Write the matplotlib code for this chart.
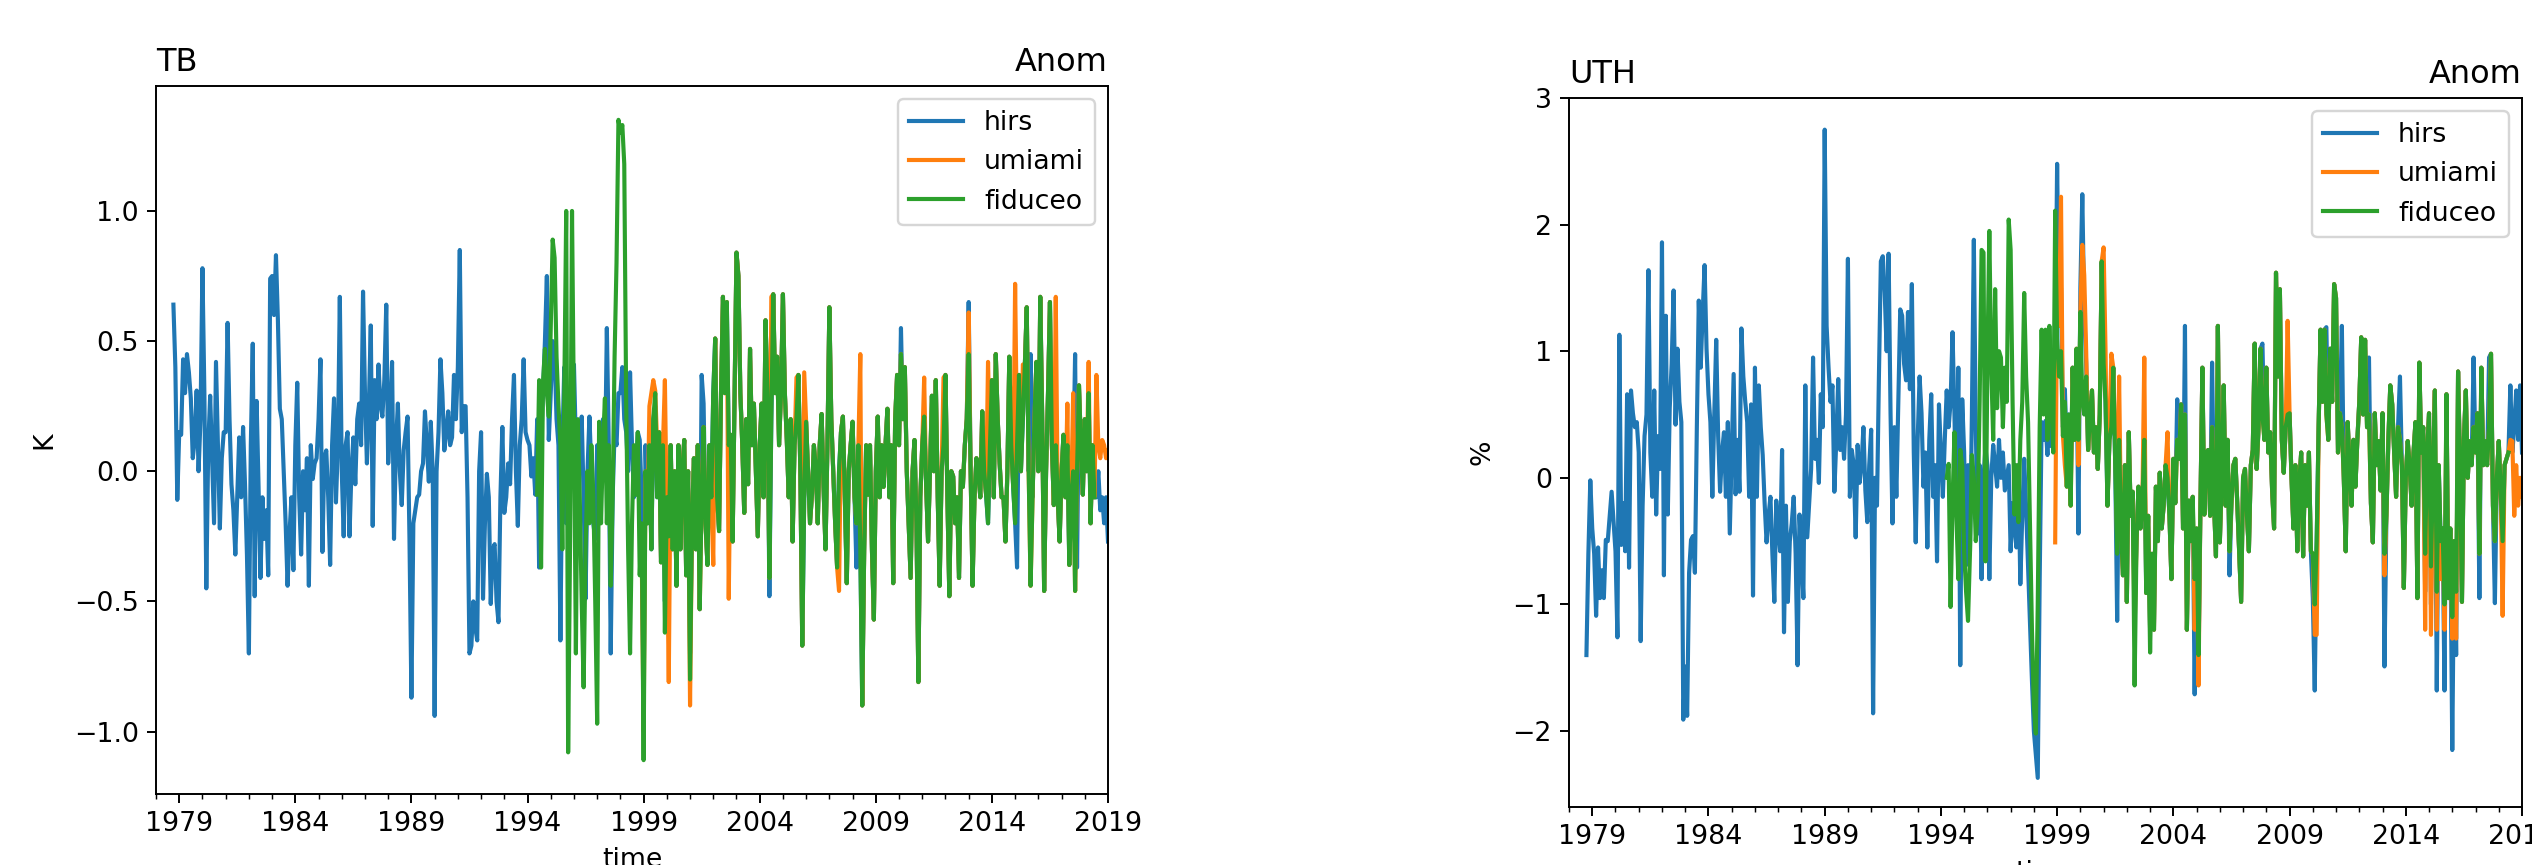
import numpy as np
import matplotlib
matplotlib.use("Agg")
import matplotlib.pyplot as plt
from matplotlib.ticker import FixedLocator, FixedFormatter

# ---------------- DATA (monthly anomalies) ----------------
# start months (decimal year of first value)
tb_hirs_start = 1978 + 9 / 12      # Oct 1978
tb_umiami_start = 1998 + 11 / 12   # Dec 1998
tb_fiduceo_start = 1994 + 5 / 12   # Jun 1994
uth_hirs_start = 1978 + 9 / 12     # Oct 1978
uth_umiami_start = 1998 + 11 / 12  # Dec 1998
uth_fiduceo_start = 1994 + 3 / 12  # Apr 1994

tb_hirs = [
    0.64, 0.40, -0.11,
    0.15, 0.14, 0.43, 0.30, 0.45, 0.38, 0.28, 0.05, 0.12, 0.31, 0.00, 0.20,
    0.78, 0.30, -0.45, 0.10, 0.29, 0.05, -0.20, 0.42, 0.10, -0.22, 0.05, 0.15,
    0.15, 0.57, 0.20, -0.05, -0.15, -0.32, -0.10, 0.13, -0.10, 0.17, -0.05, -0.32,
    -0.70, 0.10, 0.49, -0.48, 0.27, -0.06, -0.41, -0.10, -0.26, -0.15, -0.40, 0.74,
    0.75, 0.60, 0.83, 0.58, 0.24, 0.20, 0.00, -0.20, -0.44, -0.24, -0.10, -0.38,
    0.10, 0.34, -0.10, -0.32, 0.00, -0.15, 0.05, -0.44, 0.10, -0.03, 0.03, 0.05,
    0.20, 0.43, -0.31, 0.05, 0.08, -0.10, -0.36, 0.10, 0.28, -0.12, 0.10, 0.67,
    0.00, -0.25, 0.10, 0.15, -0.25, 0.00, 0.13, -0.05, 0.20, 0.26, 0.10, 0.69,
    0.30, 0.03, 0.25, 0.56, -0.21, 0.35, 0.20, 0.41, 0.25, 0.21, 0.35, 0.64,
    0.03, 0.20, 0.42, -0.26, 0.10, 0.26, 0.00, -0.13, 0.08, 0.15, 0.21, -0.26,
    -0.87, -0.20, -0.15, -0.10, -0.09, 0.00, 0.03, 0.23, 0.10, -0.04, 0.19, 0.00,
    -0.94, 0.00, 0.15, 0.43, 0.30, 0.08, 0.15, 0.23, 0.10, 0.13, 0.37, 0.20,
    0.40, 0.85, 0.15, 0.25, 0.25, -0.10, -0.70, -0.67, -0.50, -0.60, -0.65, 0.00,
    0.15, -0.49, -0.20, -0.01, -0.10, -0.51, -0.30, -0.28, -0.50, -0.58, -0.10, 0.17,
    -0.16, -0.10, 0.03, -0.05, 0.20, 0.37, 0.00, -0.21, 0.10, 0.20, 0.43, 0.15,
    0.12, 0.10, -0.02, 0.05, -0.09, 0.20, -0.37, 0.10, 0.30, 0.50, 0.75, 0.12,
    0.30, 0.50, 0.45, 0.20, 0.10, -0.65, 0.10, 0.40, -0.20, 0.05, 0.10, 0.35,
    0.41, 0.10, -0.10, 0.10, 0.21, -0.10, -0.49, 0.00, 0.21, 0.00, -0.20, -0.26,
    0.10, -0.20, 0.05, 0.20, 0.00, 0.55, 0.10, -0.70, -0.10, 0.15, 0.10, 0.30,
    0.30, 0.40, 0.20, 0.15, 0.00, 0.38, 0.10, -0.10, 0.00, 0.15, 0.12, -0.10,
    -0.90, 0.10, -0.20, 0.10, -0.30, 0.20, 0.25, -0.10, 0.15, -0.35, 0.10, -0.50,
    -0.10, -0.25, 0.10, -0.30, 0.00, -0.44, 0.10, -0.30, 0.00, 0.12, -0.40, 0.00,
    -0.70, -0.20, 0.05, -0.30, 0.10, -0.53, 0.37, 0.26, -0.20, -0.36, 0.10, -0.10,
    0.30, 0.51, -0.10, -0.23, 0.30, 0.67, 0.30, 0.65, 0.10, 0.14, -0.27, 0.30,
    0.84, 0.75, 0.30, 0.10, -0.16, 0.20, -0.05, 0.47, 0.10, 0.26, 0.00, -0.25,
    0.10, 0.26, -0.10, 0.58, 0.30, -0.48, 0.20, 0.68, 0.30, 0.44, 0.10, 0.30,
    0.68, 0.30, 0.12, -0.10, 0.20, -0.27, 0.10, 0.20, 0.37, 0.00, -0.67, -0.10,
    0.19, 0.00, -0.20, -0.09, 0.10, 0.01, -0.20, 0.10, 0.22, -0.06, -0.30, 0.10,
    0.63, 0.20, 0.00, -0.20, -0.37, 0.00, 0.15, 0.21, -0.10, -0.43, 0.00, 0.10,
    0.19, -0.10, -0.37, 0.10, -0.30, -0.90, -0.30, 0.10, -0.09, 0.10, -0.30, -0.57,
    0.00, 0.21, -0.10, 0.10, -0.06, 0.10, 0.24, -0.10, 0.10, -0.43, 0.20, 0.37,
    0.10, 0.55, 0.20, 0.40, 0.00, -0.20, -0.41, 0.00, 0.12, -0.20, -0.81, -0.10,
    0.10, 0.21, -0.05, -0.27, 0.00, 0.29, 0.00, 0.35, -0.10, -0.44, 0.00, 0.10,
    0.37, -0.10, -0.48, 0.00, -0.02, -0.20, -0.10, -0.41, 0.00, -0.06, 0.10, 0.20,
    0.65, 0.00, -0.44, -0.10, 0.05, 0.00, -0.10, 0.23, 0.00, -0.09, -0.20, 0.10,
    0.35, -0.10, 0.45, 0.20, 0.03, -0.10, -0.10, -0.27, 0.00, 0.44, 0.10, -0.06,
    -0.20, -0.37, 0.37, 0.00, 0.20, 0.40, 0.63, 0.00, 0.45, -0.10, 0.20, 0.42,
    0.00, 0.67, 0.20, -0.46, 0.00, 0.30, 0.65, 0.10, -0.13, 0.10, -0.10, -0.27,
    0.00, 0.14, -0.10, 0.10, -0.36, -0.10, 0.00, 0.45, -0.37, 0.33, 0.10, -0.09,
    0.20, 0.00, 0.30, -0.20, 0.10, -0.10, -0.10, 0.00, -0.15, -0.10, -0.20, -0.10,
    -0.27,
]

tb_umiami = [
    -0.30,
    -1.00, 0.00, -0.20, 0.25, 0.30, 0.35, 0.31, 0.10, 0.15, -0.35, 0.10, 0.35,
    -0.20, -0.81, 0.10, -0.30, 0.00, -0.44, 0.10, -0.30, 0.00, 0.12, -0.40, 0.00,
    -0.90, -0.20, 0.05, -0.30, 0.10, -0.53, -0.10, 0.17, -0.20, -0.36, 0.10, -0.10,
    -0.36, 0.51, -0.10, -0.23, 0.30, 0.67, 0.30, 0.65, -0.49, 0.14, -0.27, 0.30,
    0.84, 0.75, 0.30, 0.10, -0.16, 0.20, -0.05, 0.47, 0.10, 0.26, 0.00, -0.25,
    0.10, 0.26, -0.10, 0.58, 0.30, -0.41, 0.67, 0.68, 0.30, 0.44, 0.10, 0.30,
    0.68, 0.30, 0.12, -0.10, 0.20, -0.27, 0.10, 0.36, 0.37, 0.00, -0.67, 0.38,
    0.19, 0.00, -0.20, -0.09, 0.10, 0.01, -0.20, 0.10, 0.22, -0.06, -0.30, 0.10,
    0.63, 0.20, 0.00, -0.20, -0.37, -0.46, 0.15, 0.21, -0.10, -0.43, 0.00, 0.10,
    0.19, -0.10, -0.20, 0.10, 0.45, -0.90, -0.30, 0.10, -0.09, 0.10, -0.30, -0.57,
    0.00, 0.21, -0.10, 0.10, -0.06, 0.10, 0.24, -0.10, 0.10, -0.43, 0.20, 0.37,
    0.10, 0.45, 0.20, 0.40, 0.00, -0.20, -0.41, 0.00, 0.12, -0.20, -0.81, -0.10,
    0.10, 0.36, -0.05, -0.27, 0.00, 0.29, 0.00, 0.35, -0.10, -0.44, 0.00, 0.36,
    0.37, -0.10, -0.48, 0.00, -0.02, -0.20, -0.10, -0.41, 0.00, -0.06, 0.10, 0.20,
    0.61, 0.00, -0.44, -0.10, 0.05, 0.00, -0.10, 0.23, 0.00, -0.09, 0.42, 0.10,
    0.35, -0.10, 0.45, 0.20, 0.03, -0.10, -0.10, -0.27, 0.00, 0.44, 0.10, -0.06,
    0.72, 0.10, 0.37, 0.00, 0.41, 0.40, 0.63, 0.00, -0.44, -0.10, 0.20, 0.42,
    0.00, 0.67, 0.20, -0.46, 0.00, 0.30, 0.65, 0.10, -0.13, 0.67, -0.10, -0.27,
    0.00, 0.14, -0.10, 0.26, -0.36, -0.10, 0.30, -0.46, 0.00, 0.33, 0.10, -0.09,
    0.20, 0.00, 0.42, -0.20, 0.10, -0.10, 0.37, 0.10, 0.05, 0.12, 0.10, 0.05,
    0.08,
]

tb_fiduceo = [
    -0.09, 0.35, -0.37, 0.34, 0.47, 0.30, 0.21,
    0.55, 0.89, 0.82, 0.44, 0.25, 0.10, -0.30, 0.30, 1.00, -1.08, -0.27, 1.00,
    0.20, -0.70, 0.20, -0.10, -0.50, -0.83, -0.30, 0.00, -0.20, 0.10, -0.09, -0.50,
    -0.97, 0.19, -0.20, 0.10, 0.28, -0.20, 0.10, -0.44, -0.10, 0.44, 0.80, 1.35,
    1.30, 1.33, 1.18, 0.26, -0.30, -0.70, -0.20, 0.10, -0.09, 0.15, -0.40, -0.20,
    -1.11, 0.00, -0.20, 0.10, -0.30, 0.20, 0.30, -0.10, 0.15, -0.35, 0.10, -0.62,
    -0.10, -0.25, 0.10, -0.30, 0.00, -0.44, 0.10, -0.30, 0.00, 0.12, -0.40, 0.00,
    -0.80, -0.20, 0.05, -0.30, 0.10, -0.53, -0.10, 0.17, -0.20, -0.36, 0.10, -0.10,
    0.30, 0.51, -0.10, -0.23, 0.30, 0.67, 0.30, 0.65, 0.10, 0.14, -0.27, 0.30,
    0.84, 0.75, 0.30, 0.10, -0.16, 0.20, -0.05, 0.47, 0.10, 0.26, 0.00, -0.25,
    0.10, 0.26, -0.10, 0.58, 0.30, -0.41, 0.20, 0.68, 0.30, 0.44, 0.10, 0.30,
    0.68, 0.30, 0.12, -0.10, 0.20, -0.27, 0.10, 0.20, 0.37, 0.00, -0.67, -0.10,
    0.19, 0.00, -0.20, -0.09, 0.10, 0.01, -0.20, 0.10, 0.22, -0.06, -0.30, 0.10,
    0.63, 0.20, 0.00, -0.20, -0.37, 0.00, 0.15, 0.21, -0.10, -0.43, 0.00, 0.10,
    0.19, -0.10, -0.20, 0.10, -0.30, -0.90, -0.30, 0.10, -0.09, 0.10, -0.30, -0.57,
    0.00, 0.21, -0.10, 0.10, -0.06, 0.10, 0.24, -0.10, 0.10, -0.43, 0.20, 0.37,
    0.10, 0.45, 0.20, 0.40, 0.00, -0.20, -0.41, 0.00, 0.12, -0.20, -0.81, -0.10,
    0.10, 0.21, -0.05, -0.27, 0.00, 0.29, 0.00, 0.35, -0.10, -0.44, 0.00, 0.10,
    0.37, -0.10, -0.48, 0.00, -0.02, -0.20, -0.10, -0.41, 0.00, -0.06, 0.10, 0.20,
    0.45, 0.00, -0.44, -0.10, 0.05, 0.00, -0.10, 0.23, 0.00, -0.09, -0.20, 0.10,
    0.35, -0.10, 0.45, 0.20, 0.03, -0.10, -0.10, -0.27, 0.00, 0.44, 0.10, -0.06,
    -0.20, 0.10, 0.37, 0.00, 0.20, 0.40, 0.63, 0.00, -0.44, -0.10, 0.20, 0.42,
    0.00, 0.67, 0.20, -0.46, 0.00, 0.30, 0.65, 0.10, -0.13, 0.10, -0.10, -0.27,
    0.00, 0.14, -0.10, 0.10, -0.36, -0.10, 0.00, -0.46, 0.00, 0.33, 0.10, -0.09,
    0.20, 0.00, 0.30, -0.20, 0.10, -0.10,
]

uth_hirs = [
    -1.40, -0.60, -0.02,
    -0.40, -0.60, -1.09, -0.55, -0.95, -0.73, -0.95, -0.49, -0.50, -0.30, -0.11, -0.35,
    -0.58, -1.26, 1.13, -0.53, -0.20, -0.58, 0.66, -0.71, 0.69, 0.51, 0.40, 0.44,
    0.20, -1.29, -0.22, 0.33, 0.50, 1.64, 0.20, -0.15, 0.69, -0.29, 0.33, 0.07,
    1.86, -0.77, 1.28, -0.29, 0.55, 0.90, 1.48, 0.42, 1.02, 0.60, 0.44, -1.91,
    -1.49, -1.88, -0.75, -0.49, -0.46, -0.75, 0.40, 1.40, 0.87, 1.30, 1.68, 1.02,
    0.66, 0.44, -0.15, 0.50, 1.09, 0.33, -0.11, 0.20, 0.36, -0.15, 0.44, -0.44,
    0.20, 0.82, -0.13, 0.30, -0.11, 1.18, 0.80, 0.60, 0.44, -0.15, 0.58, -0.93,
    0.87, -0.15, 0.73, 0.40, 0.18, -0.20, -0.51, -0.30, -0.15, -0.60, -0.98, -0.18,
    -0.40, -0.58, 0.22, -1.22, -0.22, -0.98, -0.50, -0.36, -0.15, -0.60, -1.48, -0.29,
    -0.60, -0.95, 0.73, -0.47, -0.20, 0.07, 0.95, 0.15, 0.30, -0.04, 0.66, 0.40,
    2.75, 1.20, 0.87, 0.60, 0.73, -0.11, 0.30, 0.78, 0.22, 0.40, 0.15, 0.50,
    1.73, -0.15, 0.22, 0.10, -0.47, 0.26, -0.04, 0.10, 0.40, -0.10, -0.35, 0.10,
    0.38, -1.86, 0.00, -0.22, 0.80, 1.71, 1.75, 1.46, 1.00, 1.77, 0.51, -0.36,
    0.40, -0.15, 0.60, 1.33, 1.28, 0.90, 0.77, 1.31, 0.70, 1.53, 0.20, -0.51,
    0.30, 0.80, 0.51, -0.07, 0.20, -0.55, 0.30, 0.66, -0.15, 0.10, -0.66, 0.58,
    0.20, -0.15, 0.30, 0.69, 0.40, 0.60, 1.15, 0.50, -0.29, 0.87, -1.48, 0.62,
    0.20, -0.69, 0.10, -0.58, 0.50, 1.88, 0.40, -0.44, 0.10, -0.80, 0.00, 0.24,
    0.10, -0.80, 0.00, 0.26, 0.10, -0.07, 0.30, 0.00, 0.20, -0.10, 0.00, 0.10,
    -0.58, -0.20, -0.40, -0.55, 0.10, -0.84, -0.30, 0.15, -0.25, -0.70, -1.15, -1.60,
    -2.00, -2.19, -2.37, -0.80, 0.44, 0.30, 0.45, 0.18, 0.60, 0.25, 0.50, 0.90,
    2.48, 1.20, 1.50, 0.40, 0.70, 0.20, 0.50, -0.10, 0.87, 0.30, 1.00, -0.44,
    1.50, 2.24, 1.30, 0.90, 0.22, 0.50, 0.69, 0.20, 0.40, 0.07, 0.50, 1.70,
    1.20, 0.60, -0.22, 0.30, 0.40, 0.87, 0.10, -1.13, 0.30, -0.40, -0.77, 0.10,
    -0.98, 0.36, -0.30, -0.11, -1.00, -0.50, -0.07, -0.40, -0.22, 0.30, -0.91, -0.30,
    -1.20, -0.60, -1.20, -0.07, -0.50, 0.04, -0.40, -0.22, 0.10, 0.00, -0.30, -0.80,
    0.15, -0.20, 0.62, 0.15, 0.58, -0.40, 1.20, -1.20, -0.18, -0.50, -0.15, -1.71,
    -0.40, -1.50, -0.20, 0.87, -0.29, 0.20, 0.22, -0.30, 0.91, -0.20, -0.62, 1.20,
    -0.51, 0.00, 0.73, -0.22, 0.30, -0.77, -0.20, 0.10, 0.15, -0.20, -0.58, -0.98,
    0.00, 0.07, -0.30, -0.58, 0.10, 0.22, 1.06, 0.07, 0.40, 1.02, 1.06, 0.30,
    0.87, 0.20, 0.36, -0.10, -0.40, 1.62, 0.80, 1.49, 0.30, 0.04, 0.40, 0.50,
    0.51, 0.00, -0.40, 0.10, -0.58, -0.04, 0.20, -0.62, 0.10, -0.22, 0.20, -0.58,
    -0.95, -1.68, -0.50, 0.40, 1.17, 0.60, 1.17, 1.19, 0.30, 1.02, 0.60, 1.53,
    1.42, 0.20, 0.51, 1.20, 0.00, -0.58, 0.44, 0.10, -0.22, 0.30, -0.07, 0.30,
    0.60, 1.11, 0.50, 1.09, 0.40, 0.95, -0.20, -0.51, 0.51, 0.10, 0.29, -0.10,
    0.51, -1.49, -0.30, 0.30, 0.73, 0.58, 0.20, -0.15, 0.40, 0.80, 0.10, -0.87,
    0.00, 0.29, 0.10, -0.22, 0.20, 0.44, -0.95, 0.91, 0.20, 0.40, -0.90, 0.20,
    0.51, -1.00, 0.00, 0.69, -1.68, 0.10, -0.50, -0.40, -1.68, 0.66, -0.95, -0.40,
    -2.15, -0.50, -1.40, 0.84, 0.10, -0.98, 0.30, 0.69, 0.00, 0.29, 0.10, 0.95,
    0.20, 0.51, -0.95, 0.87, 0.10, 0.29, 0.10, 0.95, 0.98, -0.22, -0.99, 0.00,
    0.29, -0.10, -0.50, 0.10, 0.15, 0.20, 0.73, 0.20, 0.40, 0.69, 0.30, 0.73,
    0.20,
]

uth_umiami = [
    -0.51,
    1.50, 1.20, 2.22, 0.33, 0.10, -0.07, 0.30, -0.22, 0.87, 0.30, 1.02, 0.10,
    1.30, 1.84, 1.60, 1.00, 0.22, 0.50, 0.69, 0.20, 0.40, 0.07, 0.50, 1.71,
    1.82, 1.00, -0.22, 0.30, 0.98, 0.87, 0.30, -0.50, 0.80, -0.40, -0.77, 0.10,
    -0.98, 0.36, -0.30, -0.11, -1.20, -0.50, -0.07, -0.40, -0.22, 0.95, -0.91, -0.30,
    -1.20, -0.60, -1.20, -0.07, -0.50, 0.04, -0.40, -0.22, 0.10, 0.36, -0.30, -0.80,
    0.15, -0.20, 0.30, 0.15, 0.58, -0.40, 0.50, -1.20, -0.18, -0.50, -0.15, -1.20,
    -0.40, -1.64, -0.20, 0.87, -0.29, 0.20, 0.22, -0.30, 0.40, -0.20, -0.62, 1.20,
    -0.51, 0.00, 0.73, -0.22, 0.30, -0.58, -0.20, 0.10, 0.15, -0.20, -0.58, -0.98,
    0.00, 0.07, -0.30, -0.58, 0.10, 0.22, 1.06, 0.07, 0.40, 1.02, 0.50, 0.30,
    0.87, 0.20, 0.36, -0.10, -0.40, 1.62, 0.80, 1.49, 0.30, 0.04, 0.40, 1.24,
    0.51, 0.00, -0.40, 0.10, -0.58, -0.04, 0.20, -0.62, 0.10, -0.22, 0.20, -0.58,
    -0.60, -1.24, -1.24, 0.40, 1.17, 0.60, 1.17, 0.50, 0.30, 1.02, 0.60, 1.53,
    1.42, 0.20, 0.51, 0.40, 0.00, -0.58, 0.44, 0.10, -0.22, 0.30, -0.07, 0.30,
    0.60, 1.11, 0.50, 1.09, 0.40, 0.50, -0.20, -0.51, 0.51, 0.10, 0.29, -0.10,
    0.51, -0.77, -0.30, 0.30, 0.73, 0.58, 0.20, -0.15, 0.40, 0.30, 0.10, -0.87,
    0.00, 0.29, 0.10, -0.22, 0.20, 0.44, -0.95, 0.91, 0.20, 0.40, -1.20, 0.20,
    0.51, -1.24, 0.00, 0.69, -1.20, 0.10, -0.80, -0.40, -1.20, 0.66, -0.95, -0.40,
    -1.27, -0.50, -1.27, 0.84, 0.10, -0.98, 0.30, 0.69, 0.00, 0.29, 0.10, 0.40,
    0.20, 0.51, -0.60, 0.87, 0.10, 0.29, 0.10, 0.40, 0.98, -0.22, -0.50, 0.00,
    0.29, -0.10, -1.09, 0.10, 0.15, 0.20, 0.30, 0.29, -0.30, 0.10, -0.22, 0.00,
    -0.15,
]

uth_fiduceo = [
    0.00, 0.11, -1.02, -0.20, 0.36, -0.30, -0.80, 0.22, 0.10,
    -0.58, -0.90, -1.13, -0.60, 0.18, 0.00, -0.50, -0.26, 0.60, 1.80, 1.78, -0.66,
    0.90, 1.95, 0.87, 0.30, 1.49, 0.55, 1.00, 0.95, 0.40, 0.87, 0.60, 2.04,
    1.80, 0.60, -0.29, 0.10, -0.35, 0.30, 0.60, 1.46, 0.80, 0.44, -0.40, -1.20,
    -1.80, -2.02, -1.00, 0.40, 1.17, 0.50, 1.17, 0.30, 1.20, 0.60, 0.20, 2.11,
    1.10, 0.80, 1.00, 0.33, 0.60, -0.07, 0.50, -0.22, 0.87, 0.30, 1.02, 0.30,
    1.31, 0.60, 0.50, 0.80, 0.22, 0.50, 0.69, 0.20, 0.40, 0.07, 0.50, 1.71,
    0.90, 0.60, -0.22, 0.30, 0.40, 0.87, 0.10, -0.60, 0.30, -0.40, -0.77, 0.10,
    -0.98, 0.36, -0.30, -0.11, -1.64, -0.50, -0.07, -0.40, -0.22, 0.30, -0.91, -0.30,
    -1.38, -0.60, -1.20, -0.07, -0.50, 0.04, -0.40, -0.22, 0.10, 0.00, -0.30, -0.80,
    0.15, -0.20, 0.30, 0.15, 0.58, -0.40, 0.50, -1.20, -0.18, -0.50, -0.15, -0.80,
    -0.40, -1.40, -0.20, 0.87, -0.29, 0.20, 0.22, -0.30, 0.40, -0.20, -0.62, 1.20,
    -0.51, 0.00, 0.73, -0.22, 0.30, -0.58, -0.20, 0.10, 0.15, -0.20, -0.58, -0.98,
    0.00, 0.07, -0.30, -0.58, 0.10, 0.22, 1.06, 0.07, 0.40, 1.02, 0.50, 0.30,
    0.87, 0.20, 0.36, -0.10, -0.40, 1.62, 0.80, 1.49, 0.30, 0.04, 0.40, 0.50,
    0.51, 0.00, -0.40, 0.10, -0.58, -0.04, 0.20, -0.62, 0.10, -0.22, 0.20, -0.58,
    -0.60, -1.00, -0.50, 0.40, 1.17, 0.60, 1.17, 0.50, 0.30, 1.02, 0.60, 1.53,
    1.42, 0.20, 0.51, 0.40, 0.00, -0.58, 0.44, 0.10, -0.22, 0.30, -0.07, 0.30,
    0.60, 1.11, 0.50, 1.09, 0.40, 0.50, -0.20, -0.51, 0.51, 0.10, 0.29, -0.10,
    0.51, -0.60, -0.30, 0.30, 0.73, 0.58, 0.20, -0.15, 0.40, 0.30, 0.10, -0.87,
    0.00, 0.29, 0.10, -0.22, 0.20, 0.44, -0.95, 0.91, 0.20, 0.40, -0.60, 0.20,
    0.51, -0.70, 0.00, 0.69, -0.90, 0.10, -0.50, -0.40, -1.00, 0.66, -0.95, -0.40,
    -1.10, -0.50, -0.90, 0.84, 0.10, -0.98, 0.30, 0.69, 0.00, 0.29, 0.10, 0.40,
    0.20, 0.51, -0.60, 0.87, 0.10, 0.29, 0.10, 0.40, 0.98, -0.22, -0.50, 0.00,
    0.29, -0.10, -0.50, 0.10, 0.15, 0.20,
]

series_labels = ["hirs", "umiami", "fiduceo"]
panel_titles = ["TB", "UTH"]
panel_units = ["K", "%"]
right_title = "Anom"
year_ticks = [1979, 1984, 1989, 1994, 1999, 2004, 2009, 2014, 2019]
year_minor = list(range(1978, 2020))


def month_axis(start, values):
    return start + np.arange(len(values)) / 12.0


# ---------------- FIGURE ----------------
W, H = 2532, 865
DPI = 175
plt.rcParams["font.size"] = 11
fig = plt.figure(figsize=(W / DPI, H / DPI), dpi=DPI)

ax1 = fig.add_axes([156 / W, (H - 794) / H, 952 / W, 708 / H])
ax2 = fig.add_axes([1569 / W, (H - 807) / H, 953 / W, 709 / H])

panels = [
    (ax1, [(tb_hirs_start, tb_hirs), (tb_umiami_start, tb_umiami), (tb_fiduceo_start, tb_fiduceo)], (-1.24, 1.48)),
    (ax2, [(uth_hirs_start, uth_hirs), (uth_umiami_start, uth_umiami), (uth_fiduceo_start, uth_fiduceo)], (-2.6, 3.0)),
]

for idx, (ax, data, ylim) in enumerate(panels):
    for (start, vals), lab, col in zip(data, series_labels, ["C0", "C1", "C2"]):
        ax.plot(month_axis(start, vals), vals, color=col, lw=1.7, label=lab)
    ax.set_xlim(1978.0, 2019.0)
    ax.set_ylim(*ylim)
    ax.xaxis.set_major_locator(FixedLocator(year_ticks))
    ax.xaxis.set_major_formatter(FixedFormatter([str(y) for y in year_ticks]))
    ax.xaxis.set_minor_locator(FixedLocator(year_minor))
    ax.set_title(panel_titles[idx], loc="left")
    ax.set_title(right_title, loc="right")
    ax.set_ylabel(panel_units[idx], labelpad=7)
    ax.set_xlabel("time")
    ax.legend(loc="upper right")

fig.savefig("out.png", dpi=DPI)
